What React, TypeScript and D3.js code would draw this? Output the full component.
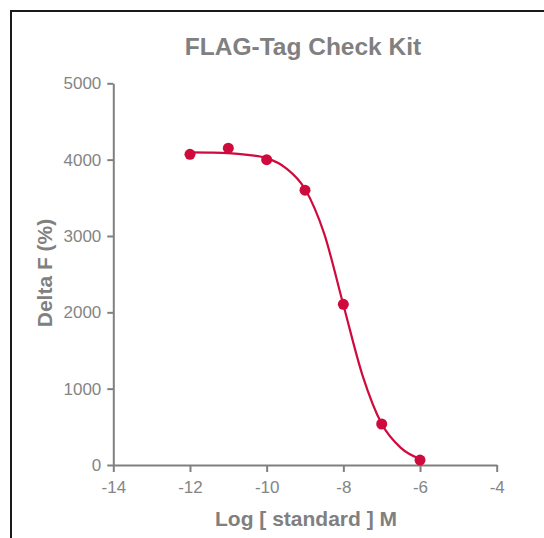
import React, { useEffect, useRef } from 'react'
import * as d3 from 'd3'

// measured points (log concentration vs delta F)
const logConc = [-12, -11, -10, -9, -8, -7, -6]
const deltaF = [4070, 4150, 4000, 3600, 2105, 537, 65]

// fitted curve
const curveX = [-12, -11.5, -11, -10.5, -10, -9.5, -9, -8.5, -8, -7.5, -7, -6.5, -6]
const curveY = [4095, 4092, 4085, 4062, 4020, 3890, 3615, 3030, 2100, 1175, 540, 225, 78]

const xTicks = [-14, -12, -10, -8, -6, -4]
const yTicks = [0, 1000, 2000, 3000, 4000, 5000]

const title = 'FLAG-Tag Check Kit'
const xLabel = 'Log [ standard ] M'
const yLabel = 'Delta F (%)'

function App() {
  const svgRef = useRef<SVGSVGElement>(null)

  useEffect(() => {
    const w = 544
    const h = 538
    const font = '"Liberation Sans", Arial, sans-serif'
    const grey = '#808080'
    const red = '#cf0a3d'

    const svg = d3.select(svgRef.current)
      .attr('width', w)
      .attr('height', h)
      .style('position', 'absolute')
      .style('left', '0px')
      .style('top', '0px')
    svg.selectAll('*').remove()

    // outer frame (runs off the right and bottom edges)
    svg.append('rect')
      .attr('x', 11)
      .attr('y', 11)
      .attr('width', 600)
      .attr('height', 600)
      .attr('fill', 'white')
      .attr('stroke', '#1a1a1a')
      .attr('stroke-width', 2)

    const xScale = d3.scaleLinear().domain([-14, -4]).range([113.3, 496.7])
    const yScale = d3.scaleLinear().domain([0, 5000]).range([465, 83.3])

    // axes
    const xAxis = d3.axisBottom(xScale)
      .tickValues(xTicks)
      .tickSize(7)
      .tickSizeOuter(0)
      .tickPadding(9)
      .tickFormat(d => String(d).replace('-', '-'))
    const yAxis = d3.axisLeft(yScale)
      .tickValues(yTicks)
      .tickSize(6)
      .tickSizeOuter(0)
      .tickPadding(6)
      .tickFormat(d3.format('d'))

    const gx = svg.append('g')
      .attr('transform', `translate(0,${yScale(0)})`)
      .call(xAxis)
    const gy = svg.append('g')
      .attr('transform', `translate(${xScale(-14)},0)`)
      .call(yAxis)

    for (const g of [gx, gy]) {
      g.select('.domain').attr('stroke', grey).attr('stroke-width', 2)
      g.selectAll('.tick line').attr('stroke', grey).attr('stroke-width', 2)
      g.selectAll('.tick text')
        .attr('fill', '#858585')
        .style('font-family', font)
        .style('font-size', '17px')
    }

    // fitted curve
    const line = d3.line<number>()
      .x((d, i) => xScale(curveX[i]))
      .y(d => yScale(d))
      .curve(d3.curveMonotoneX)
    svg.append('path')
      .datum(curveY)
      .attr('d', line)
      .attr('fill', 'none')
      .attr('stroke', red)
      .attr('stroke-width', 2.2)

    // points
    svg.selectAll('.pt')
      .data(deltaF)
      .join('circle')
      .attr('class', 'pt')
      .attr('cx', (d, i) => xScale(logConc[i]))
      .attr('cy', d => yScale(d))
      .attr('r', 5.5)
      .attr('fill', red)

    // titles
    svg.append('text')
      .attr('x', 303)
      .attr('y', 55)
      .attr('text-anchor', 'middle')
      .attr('fill', grey)
      .style('font-family', font)
      .style('font-weight', 'bold')
      .style('font-size', '24.5px')
      .text(title)

    svg.append('text')
      .attr('x', 306)
      .attr('y', 526)
      .attr('text-anchor', 'middle')
      .attr('fill', grey)
      .style('font-family', font)
      .style('font-weight', 'bold')
      .style('font-size', '21px')
      .text(xLabel)

    svg.append('text')
      .attr('transform', 'translate(52,273) rotate(-90)')
      .attr('text-anchor', 'middle')
      .attr('fill', grey)
      .style('font-family', font)
      .style('font-weight', 'bold')
      .style('font-size', '21px')
      .text(yLabel)
  }, [])

  return <svg ref={svgRef}></svg>
}

export default App
